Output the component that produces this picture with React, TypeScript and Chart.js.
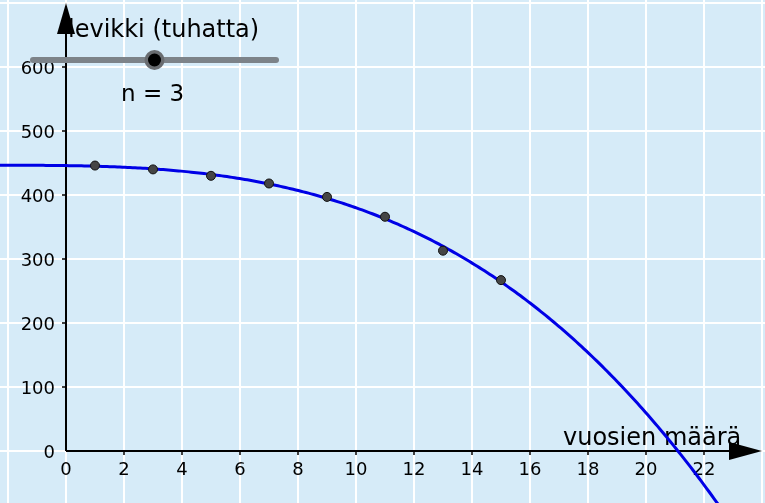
import React, { useEffect, useRef } from "react";
import { Chart, registerables } from "chart.js";

Chart.register(...registerables);

// ---- data ----
const years = [1, 3, 5, 7, 9, 11, 13, 15];
const circulation = [446, 440, 430, 418, 397, 366, 313, 267];
const xTickValues = [0, 2, 4, 6, 8, 10, 12, 14, 16, 18, 20, 22];
const yTickValues = [0, 100, 200, 300, 400, 500, 600];
const polyDegree = 3; // n
const sliderMin = 1;
const sliderMax = 5;
const xTitle = "vuosien määrä";
const yTitle = "levikki (tuhatta)";

const X_MIN = -66 / 29;
const X_MAX = (765 - 66) / 29;
const Y_MAX = 451 / 0.64;
const Y_MIN = -52 / 0.64;

// least-squares polynomial regression (as the original's FitPoly)
function polyFit(xs: number[], ys: number[], deg: number): number[] {
  const m = deg + 1;
  const A: number[][] = [];
  for (let r = 0; r < m; r++) {
    const row: number[] = [];
    for (let c = 0; c < m; c++) {
      let s = 0;
      for (const x of xs) s += Math.pow(x, r + c);
      row.push(s);
    }
    let t = 0;
    xs.forEach((x, i) => (t += ys[i] * Math.pow(x, r)));
    row.push(t);
    A.push(row);
  }
  for (let i = 0; i < m; i++) {
    let p = i;
    for (let k = i + 1; k < m; k++) if (Math.abs(A[k][i]) > Math.abs(A[p][i])) p = k;
    [A[i], A[p]] = [A[p], A[i]];
    for (let k = i + 1; k < m; k++) {
      const f = A[k][i] / A[i][i];
      for (let j = i; j <= m; j++) A[k][j] -= f * A[i][j];
    }
  }
  const coef = new Array(m).fill(0);
  for (let i = m - 1; i >= 0; i--) {
    let s = A[i][m];
    for (let j = i + 1; j < m; j++) s -= A[i][j] * coef[j];
    coef[i] = s / A[i][i];
  }
  return coef;
}

const FONT = '"DejaVu Sans", sans-serif';

const decorPlugin = {
  id: "decor",
  beforeDraw(chart: any) {
    const { ctx, width, height } = chart;
    ctx.save();
    ctx.fillStyle = "rgb(214,235,248)";
    ctx.fillRect(0, 0, width, height);
    ctx.restore();
  },
  beforeDatasetsDraw(chart: any) {
    const { ctx } = chart;
    const xs = chart.scales.x;
    const ys = chart.scales.y;
    const ox = xs.getPixelForValue(0);
    const oy = ys.getPixelForValue(0);
    ctx.save();
    ctx.strokeStyle = "#000";
    ctx.fillStyle = "#000";
    ctx.lineWidth = 2;
    // axes
    ctx.beginPath();
    ctx.moveTo(ox, oy);
    ctx.lineTo(ox, 20);
    ctx.moveTo(ox, oy);
    ctx.lineTo(745, oy);
    ctx.stroke();
    // arrowheads
    ctx.beginPath();
    ctx.moveTo(ox, 3);
    ctx.lineTo(ox + 9, 34);
    ctx.lineTo(ox - 9, 34);
    ctx.closePath();
    ctx.fill();
    ctx.beginPath();
    ctx.moveTo(762, oy);
    ctx.lineTo(729, oy - 9);
    ctx.lineTo(729, oy + 9);
    ctx.closePath();
    ctx.fill();
    // ticks
    ctx.lineWidth = 1.5;
    ctx.beginPath();
    for (const v of xTickValues) {
      if (v === 0) continue;
      const px = xs.getPixelForValue(v);
      ctx.moveTo(px, oy);
      ctx.lineTo(px, oy + 4);
    }
    for (const v of yTickValues) {
      if (v === 0) continue;
      const py = ys.getPixelForValue(v);
      ctx.moveTo(ox - 4, py);
      ctx.lineTo(ox, py);
    }
    ctx.stroke();
    // tick labels
    ctx.font = `18px ${FONT}`;
    ctx.textBaseline = "middle";
    ctx.textAlign = "center";
    for (const v of xTickValues) {
      ctx.fillText(String(v), xs.getPixelForValue(v), oy + 19);
    }
    ctx.textAlign = "right";
    for (const v of yTickValues) {
      ctx.fillText(String(v), ox - 11, ys.getPixelForValue(v) + 2);
    }
    // axis titles
    ctx.font = `24px ${FONT}`;
    ctx.textBaseline = "alphabetic";
    ctx.textAlign = "left";
    ctx.fillText(yTitle, ox + 2, 37);
    ctx.fillText(xTitle, 563, oy - 6);
    ctx.restore();
  },
  afterDraw(chart: any) {
    const { ctx } = chart;
    ctx.save();
    // slider
    const x0 = 33, x1 = 276, y = 60;
    ctx.strokeStyle = "rgb(125,131,137)";
    ctx.lineWidth = 6;
    ctx.lineCap = "round";
    ctx.beginPath();
    ctx.moveTo(x0, y);
    ctx.lineTo(x1, y);
    ctx.stroke();
    const kx = x0 + ((polyDegree - sliderMin) / (sliderMax - sliderMin)) * (x1 - x0);
    ctx.fillStyle = "rgb(105,108,112)";
    ctx.beginPath();
    ctx.arc(kx, y, 10, 0, Math.PI * 2);
    ctx.fill();
    ctx.fillStyle = "#000";
    ctx.beginPath();
    ctx.arc(kx, y, 6.5, 0, Math.PI * 2);
    ctx.fill();
    ctx.font = `23px ${FONT}`;
    ctx.textBaseline = "alphabetic";
    ctx.textAlign = "left";
    ctx.fillText(`n = ${polyDegree}`, 121, 101);
    ctx.restore();
  },
};

export default function App() {
  const ref = useRef<HTMLCanvasElement | null>(null);
  useEffect(() => {
    if (!ref.current) return;
    const coef = polyFit(years, circulation, polyDegree);
    const f = (x: number) => coef.reduce((s, c, i) => s + c * Math.pow(x, i), 0);
    const curve: { x: number; y: number }[] = [];
    for (let i = 0; i <= 300; i++) {
      const x = X_MIN + ((X_MAX - X_MIN) * i) / 300;
      curve.push({ x, y: f(x) });
    }
    const chart = new Chart(ref.current, {
      type: "scatter",
      data: {
        datasets: [
          {
            label: "data",
            data: years.map((x, i) => ({ x, y: circulation[i] })),
            pointRadius: 4.5,
            pointBackgroundColor: "#454545",
            pointBorderColor: "#111",
            pointBorderWidth: 1,
            showLine: false,
            order: 0,
          },
          {
            label: "fit",
            data: curve,
            showLine: true,
            pointRadius: 0,
            borderColor: "rgb(0,0,230)",
            borderWidth: 3,
            tension: 0,
            order: 1,
          },
        ],
      },
      options: {
        responsive: false,
        animation: false,
        events: [],
        layout: { padding: 0, autoPadding: false },
        plugins: { legend: { display: false }, tooltip: { enabled: false } },
        scales: {
          x: {
            type: "linear",
            min: X_MIN,
            max: X_MAX,
            border: { display: false },
            ticks: { display: false, stepSize: 2, includeBounds: false },
            grid: { color: "#ffffff", lineWidth: 2, drawTicks: false },
          },
          y: {
            type: "linear",
            min: Y_MIN,
            max: Y_MAX,
            border: { display: false },
            ticks: { display: false, stepSize: 100, includeBounds: false },
            grid: { color: "#ffffff", lineWidth: 2, drawTicks: false },
          },
        },
      },
      plugins: [decorPlugin],
    });
    return () => chart.destroy();
  }, []);
  return (
    <div style={{ position: "fixed", left: 0, top: 0, width: 765, height: 503 }}>
      <canvas ref={ref} width={765} height={503} style={{ display: "block" }} />
    </div>
  );
}
